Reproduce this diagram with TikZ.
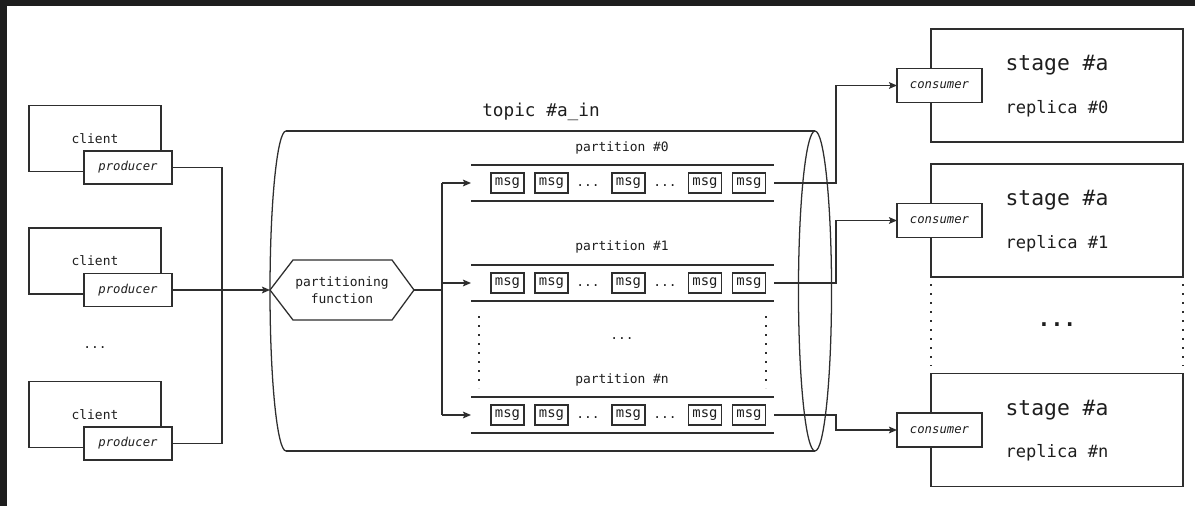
\documentclass[tikz,border=0pt]{standalone}
\usepackage{fontspec}
\setmonofont{DejaVu Sans Mono}
\usetikzlibrary{arrows.meta}
\definecolor{ink}{HTML}{2E2E2E}
\definecolor{txt}{HTML}{1E1E1E}
\definecolor{edge}{HTML}{1E1E1E}
\newcommand\mono[1]{\ttfamily\fontsize{#1}{#1}\selectfont}
\tikzset{
  px/.style 2 args={minimum width=#1*0.75pt, minimum height=#2*0.75pt},
  line/.style={draw=ink, line width=0.95pt},
  flow/.style={line, -{Stealth[length=6pt,width=5pt,inset=1.2pt]}},
  dotline/.style={draw=ink, line width=1.4pt, dash pattern=on 1.4pt off 5.35pt},
  lbl/.style={text=txt, inner sep=0pt, outer sep=0pt, font=\mono{9.7}},
  box/.style={line, fill=white, inner sep=0pt, outer sep=0pt, text=txt, font=\mono{9.7}},
  role/.style={box, font=\mono{9.2}\itshape},
  msg/.style={box, px={33}{20}, font=\mono{10.4}},
  stagebox/.style={box, px={252}{113}},
  stagetitle/.style={lbl, font=\mono{16}},
  replica/.style={lbl, font=\mono{12.8}},
}
\begin{document}
\begin{tikzpicture}[x=0.75pt, y=-0.75pt]
  \useasboundingbox (0,0) rectangle (1195,506);
  \fill[white] (0,0) rectangle (1195,506);
  \fill[edge] (0,0) rectangle (1195,6);
  \fill[edge] (0,0) rectangle (7,506);

  % clients with their producers
  \foreach \i/\y in {1/138.5, 2/261, 3/414.5} {
    \node[box, px={132}{66}, text depth=0pt] (c\i) at (95,\y) {client};
    \node[role, px={88}{33}] (p\i) at (128,\y+29) {producer};
  }
  \node[lbl] (cdots) at (95,348) {...};

  % topic cylinder
  \draw[line] (286,131) -- (815,131);
  \draw[line] (286,451) -- (815,451);
  \draw[line] (286,131) arc[start angle=90, end angle=270, x radius=12pt, y radius=120pt];
  \draw[line] (815,291) ellipse[x radius=12.4pt, y radius=120pt];
  \node[lbl, font=\mono{13.3}] (topic) at (541,112) {topic \#a\_in};

  % partitioning function
  \node[lbl, px={144}{60}, align=center, font=\fontsize{9.7}{12.75}\ttfamily\selectfont] (pf) at (342,290) {partitioning\\function};
  \draw[line] (pf.west) -- ([xshift=17.25pt]pf.north west) -- ([xshift=-16.5pt]pf.north east)
    -- (pf.east) -- ([xshift=-16.5pt]pf.south east) -- ([xshift=17.25pt]pf.south west) -- cycle;

  % producers feed the partitioning function
  \coordinate (jp) at (222,290);
  \draw[line] (p1.east) -| (jp);
  \draw[line] (p3.east) -| (jp);
  \draw[flow] (p2.east) -- (pf.west);

  % partitions
  \foreach \r/\y/\ly in {0/183/148, 1/283/247, n/415/380} {
    \node[px={303}{36}, inner sep=0pt, outer sep=0pt] (q\r) at (622.5,\y) {};
    \draw[line] (q\r.north west) -- (q\r.north east);
    \draw[line] (q\r.south west) -- (q\r.south east);
    \node[lbl] (l\r) at (622,\ly) {partition \#\r};
    \node[msg] (m\r a) at (507.5,\y) {msg};
    \node[msg] (m\r b) at (551.5,\y) {msg};
    \node[lbl] (d\r a) at (588,\y+3) {...};
    \node[msg] (m\r c) at (628.5,\y) {msg};
    \node[lbl] (d\r b) at (665,\y+3) {...};
    \node[msg] (m\r d) at (705,\y) {msg};
    \node[msg] (m\r e) at (749,\y) {msg};
  }
  \draw[dotline] (479,316) -- (479,388);
  \draw[dotline] (766,316) -- (766,388);
  \node[lbl] (qdots) at (622,339) {...};

  % routing from the partitioning function
  \coordinate (jq) at (442,290);
  \draw[line] (pf.east) -- (jq);
  \draw[line] (jq |- q0.west) -- (jq |- qn.west);
  \draw[flow] (jq |- q0.west) -- (q0.west);
  \draw[flow] (jq |- q1.west) -- (q1.west);
  \draw[flow] (jq |- qn.west) -- (qn.west);

  % stage replicas
  \foreach \i/\y in {0/85.5, 1/220.5, n/430} {
    \node[stagebox] (s\i) at (1057,\y) {};
    \node[stagetitle] (st\i) at (1057,\y-20) {stage \#a};
    \node[replica] (sr\i) at (1057,\y+23) {replica \#\i};
    \node[role, px={85}{34}] (k\i) at (939.5,\y) {consumer};
  }
  \draw[dotline] (931,284) -- (931,366);
  \draw[dotline] (1183,284) -- (1183,366);
  \node[lbl, font=\mono{16}\bfseries] (sdots) at (1057,325) {...};

  % partitions feed the consumers
  \draw[flow] (q0.east) -- ++(62,0) |- (k0.west);
  \draw[flow] (q1.east) -- ++(62,0) |- (k1.west);
  \draw[flow] (qn.east) -- ++(62,0) |- (kn.west);
\end{tikzpicture}
\end{document}
